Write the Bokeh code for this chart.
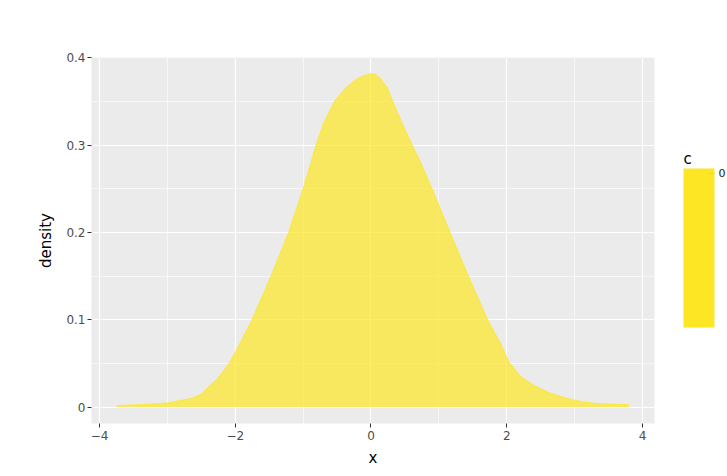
from bokeh.embed import file_html
from bokeh.models import (ColorBar, ColumnDataSource, CustomJSTickFormatter,
                          FixedTicker, Label, LinearColorMapper, Range1d)
from bokeh.plotting import figure
from bokeh.resources import INLINE

# density estimate of x
xs = [-3.75, -3.4, -3.0, -2.8, -2.65, -2.5, -2.4, -2.25, -2.1, -2.0, -1.76,
      -1.47, -1.21, -1.0, -0.81, -0.7, -0.54, -0.37, -0.2, -0.1, 0.0, 0.07,
      0.14, 0.24, 0.32, 0.46, 0.61, 0.75, 0.9, 1.16, 1.43, 1.72, 1.91, 2.03,
      2.2, 2.4, 2.65, 2.9, 3.13, 3.38, 3.8]
density = [0.002, 0.003, 0.005, 0.008, 0.010, 0.015, 0.023, 0.034, 0.049,
           0.063, 0.099, 0.151, 0.201, 0.25, 0.30, 0.325, 0.35, 0.366, 0.3765,
           0.380, 0.382, 0.381, 0.3765, 0.366, 0.35, 0.325, 0.30, 0.277, 0.25,
           0.201, 0.151, 0.10, 0.073, 0.052, 0.036, 0.025, 0.016, 0.010, 0.006,
           0.004, 0.003]
zeros = [0.0] * len(xs)

x_ticks = [-4, -2, 0, 2, 4]
x_minor = [-3, -1, 1, 3]
y_ticks = [0, 0.1, 0.2, 0.3, 0.4]
y_minor = [0.05, 0.15, 0.25, 0.35]
c_ticks = [0]

FONT = "DejaVu Sans"
YELLOW = "#FDE725"

source = ColumnDataSource(data=dict(x=xs, y=density, y0=zeros))

p = figure(width=727, height=476, output_backend="svg", toolbar_location=None,
           x_range=Range1d(-4.118, 4.177), y_range=Range1d(-0.0185, 0.4005),
           min_border_left=91, min_border_right=73, min_border_top=57,
           min_border_bottom=53)
p.background_fill_color = "#EBEBEB"
p.border_fill_color = "white"
p.outline_line_color = None

p.varea(x="x", y1="y0", y2="y", source=source, fill_color=YELLOW, fill_alpha=0.7)
p.line(x="x", y="y", source=source, line_color=YELLOW, line_width=1, line_alpha=0.8)

p.xaxis.ticker = FixedTicker(ticks=x_ticks, minor_ticks=x_minor)
p.yaxis.ticker = FixedTicker(ticks=y_ticks, minor_ticks=y_minor)
p.xaxis.formatter = CustomJSTickFormatter(code="return tick.toString().replace('-', '\u2212')")
p.yaxis.formatter = CustomJSTickFormatter(code="return tick.toString()")

for ax in (p.xaxis, p.yaxis):
    ax.axis_line_color = None
    ax.major_tick_line_color = "#333333"
    ax.major_tick_in = 0
    ax.major_tick_out = 4
    ax.minor_tick_line_color = None
    ax.major_label_text_font = FONT
    ax.major_label_text_font_size = "12px"
    ax.major_label_text_color = "#4D4D4D"
    ax.axis_label_text_font = FONT
    ax.axis_label_text_font_size = "15px"
    ax.axis_label_text_font_style = "normal"
    ax.axis_label_text_color = "black"

p.xaxis.axis_label = "x"
p.yaxis.axis_label = "density"
p.xaxis.major_label_standoff = 3
p.yaxis.major_label_standoff = 2
p.xaxis.axis_label_standoff = 6
p.yaxis.axis_label_standoff = 8

p.grid.grid_line_color = "white"
p.grid.grid_line_width = 1.2
p.grid.minor_grid_line_color = "white"
p.grid.minor_grid_line_width = 0.6

# legend for c, placed right of the panel (screen units from frame bottom-left)
mapper = LinearColorMapper(palette=[YELLOW], low=-1, high=0.03)
cbar = ColorBar(color_mapper=mapper, ticker=FixedTicker(ticks=c_ticks),
                width=31, height=159, location=(592, 96), margin=0, padding=0,
                major_label_text_font=FONT, major_label_text_font_size="11px",
                major_label_text_color="#1A1A1A",
                major_tick_line_color="#CCCCCC", major_tick_in=6, major_tick_out=0,
                label_standoff=4, bar_line_color=None, border_line_color=None,
                background_fill_color=None)
p.add_layout(cbar, "center")

# legend title, in the right-hand side panel
p.add_layout(Label(x=29, y=265, x_units="screen", y_units="screen", text="c",
                   text_font=FONT, text_font_size="15px",
                   text_baseline="alphabetic", text_color="black"), "right")

open("out.html", "w").write(file_html(p, INLINE))
